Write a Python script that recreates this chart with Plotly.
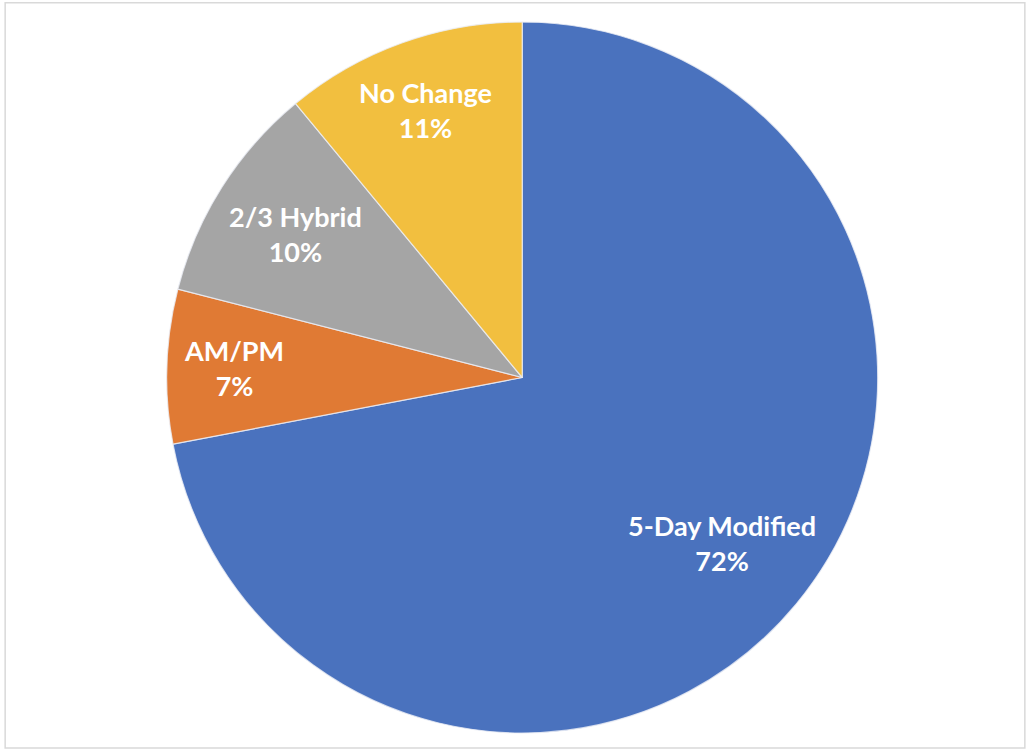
import math
import plotly.graph_objects as go

categories = ["5-Day Modified", "AM/PM", "2/3 Hybrid", "No Change"]
values = [72, 7, 10, 11]
colors = ["#4A72BE", "#E07A34", "#A5A5A5", "#F2BF3F"]

# label placement style: fraction of the radius along each slice's bisector
label_radius_frac = [0.73, 0.81, 0.755, 0.80]

dom_x = [0.014, 1.0]
dom_y = [0.0, 1.0]
W, H = 1030, 753
M = dict(l=0, r=0, t=22, b=20)

fig = go.Figure(go.Pie(
    labels=categories,
    values=values,
    sort=False,
    direction="clockwise",
    rotation=0,
    marker=dict(colors=colors, line=dict(color="rgba(235,238,245,0.8)", width=1.2)),
    textinfo="none",
    showlegend=False,
    hoverinfo="label+percent",
    domain=dict(x=dom_x, y=dom_y),
))

# label annotations placed from the data (slice bisectors)
plot_w = W - M["l"] - M["r"]
plot_h = H - M["t"] - M["b"]
radius_px = min((dom_x[1] - dom_x[0]) * plot_w, (dom_y[1] - dom_y[0]) * plot_h) / 2
cx = (dom_x[0] + dom_x[1]) / 2
cy = (dom_y[0] + dom_y[1]) / 2
total = sum(values)
cum = 0
annotations = []
for lab, v, f in zip(categories, values, label_radius_frac):
    mid = (cum + v / 2) / total * 2 * math.pi
    cum += v
    dx = radius_px * f * math.sin(mid) / plot_w
    dy = radius_px * f * math.cos(mid) / plot_h
    pct = round(v / total * 100)
    annotations.append(dict(
        x=cx + dx, y=cy + dy, xref="paper", yref="paper",
        text=f"<b>{lab}<br>{pct}%</b>", showarrow=False,
        xanchor="center", yanchor="middle", align="center",
        font=dict(family="Lato, Open Sans, sans-serif", size=27, color="white"),
    ))

fig.update_layout(
    width=W, height=H,
    margin=M,
    paper_bgcolor="white",
    plot_bgcolor="white",
    annotations=annotations,
    shapes=[dict(type="rect", xref="paper", yref="paper",
                 x0=0.005, x1=0.995, y0=-0.021, y1=1.027,
                 line=dict(color="#D9D9D9", width=1.5), fillcolor="rgba(0,0,0,0)")],
)

fig.write_html("out.html", config={"displayModeBar": False},
               post_script="document.body.style.margin='0';document.body.style.padding='0';")
